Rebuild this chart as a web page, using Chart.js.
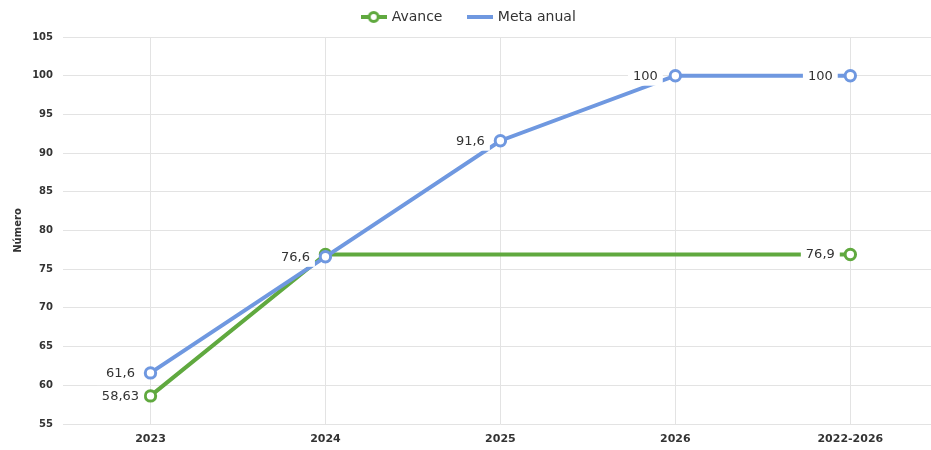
<!DOCTYPE html>
<html>
<head>
<meta charset="utf-8">
<script src="https://cdn.jsdelivr.net/npm/chart.js@4/dist/chart.umd.min.js"></script>
<style>
html,body{margin:0;padding:0;background:#fff;overflow:hidden;width:931px;height:450px;}
canvas{display:block;}
</style>
</head>
<body>
<canvas id="c" width="946" height="450"></canvas>
<script>
const categories = ['2023', '2024', '2025', '2026', '2022-2026'];
const avance = [58.63, 76.9, null, null, 76.9];
const metaAnual = [61.6, 76.6, 91.6, 100, 100];
const avanceLabelShown = [true, false, false, false, true];
const metaLabelShown = [true, true, true, true, true];
const yTicks = [55, 60, 65, 70, 75, 80, 85, 90, 95, 100, 105];

const GREEN = '#60a93f';
const BLUE = '#6f98e0';
const FONT = '"DejaVu Sans", Verdana, sans-serif';

function legendIcon(color, withCircle) {
  const cv = document.createElement('canvas');
  cv.width = 26; cv.height = 14;
  const g = cv.getContext('2d');
  g.fillStyle = color;
  g.fillRect(0, 5, 26, 4);
  if (withCircle) {
    g.beginPath();
    g.arc(13, 7, 4.5, 0, Math.PI * 2);
    g.fillStyle = '#fff';
    g.fill();
    g.lineWidth = 3;
    g.strokeStyle = color;
    g.stroke();
  }
  return cv;
}
const icons = [legendIcon(GREEN, true), legendIcon(BLUE, false)];

function fmt(v) { return String(v).replace('.', ','); }

const labelPlugin = {
  id: 'boxLabels',
  afterLayout(chart) {
    if (chart.legend) { chart.legend.top -= 3; chart.legend.bottom -= 3; }
  },
  afterDatasetsDraw(chart) {
    const ctx = chart.ctx;
    ctx.save();
    ctx.font = '13px ' + FONT;
    ctx.textAlign = 'center';
    ctx.textBaseline = 'middle';
    const shows = [avanceLabelShown, metaLabelShown];
    chart.data.datasets.forEach((ds, di) => {
      const meta = chart.getDatasetMeta(di);
      meta.data.forEach((pt, i) => {
        const v = ds.data[i];
        if (v == null || !shows[di][i]) return;
        const txt = fmt(v);
        const w = ctx.measureText(txt).width;
        const cx = pt.x - 30, cy = pt.y;
        ctx.fillStyle = '#fff';
        ctx.fillRect(cx - w / 2 - 5, cy - 10, w + 10, 20);
        ctx.fillStyle = '#333';
        ctx.fillText(txt, cx, cy + 0.5);
      });
    });
    ctx.restore();
  }
};

new Chart(document.getElementById('c'), {
  type: 'line',
  data: {
    labels: categories,
    datasets: [
      {
        label: 'Avance',
        data: avance,
        borderColor: GREEN,
        backgroundColor: '#fff',
        borderWidth: 4,
        pointRadius: 5.2,
        pointBorderWidth: 3,
        pointBackgroundColor: '#fff',
        pointBorderColor: GREEN,
        spanGaps: true,
        order: 1,
        tension: 0
      },
      {
        label: 'Meta anual',
        data: metaAnual,
        borderColor: BLUE,
        backgroundColor: '#fff',
        borderWidth: 4,
        pointRadius: 5.2,
        pointBorderWidth: 3,
        pointBackgroundColor: '#fff',
        pointBorderColor: BLUE,
        order: 0,
        tension: 0
      }
    ]
  },
  options: {
    responsive: false,
    animation: false,
    layout: { padding: { left: 0, right: 7.5, top: 0, bottom: 0 } },
    plugins: {
      tooltip: { enabled: false },
      legend: {
        position: 'top',
        labels: {
          usePointStyle: true,
          pointStyleWidth: 22,
          padding: 13,
          color: '#333',
          font: { family: FONT, size: 14 },
          generateLabels(chart) {
            return chart.data.datasets.map((ds, i) => ({
              text: i === 0 ? ds.label + '   ' : ds.label,
              pointStyle: icons[i],
              fillStyle: ds.borderColor,
              strokeStyle: ds.borderColor,
              lineWidth: 0,
              hidden: false,
              datasetIndex: i,
              fontColor: '#333'
            }));
          }
        }
      }
    },
    scales: {
      x: {
        offset: true,
        grid: { offset: false, color: '#e3e3e3', drawTicks: false },
        border: { display: false },
        ticks: { color: '#333', font: { family: FONT, size: 11, weight: 'bold' }, padding: 9, maxRotation: 0 },
        afterFit(s) { s.height = 26; }
      },
      y: {
        min: 55,
        max: 105,
        afterBuildTicks(s) { s.ticks = yTicks.map(v => ({ value: v })); },
        grid: { color: '#e3e3e3', drawTicks: false },
        border: { display: false },
        ticks: { color: '#333', font: { family: FONT, size: 10, weight: 'bold' }, padding: 10 },
        title: { display: true, text: 'Número', color: '#333', font: { family: FONT, size: 10, weight: 'bold' }, padding: { top: 12, bottom: 0 } },
        afterFit(s) { s.width = 63; }
      }
    }
  },
  plugins: [labelPlugin]
});
</script>
</body>
</html>
